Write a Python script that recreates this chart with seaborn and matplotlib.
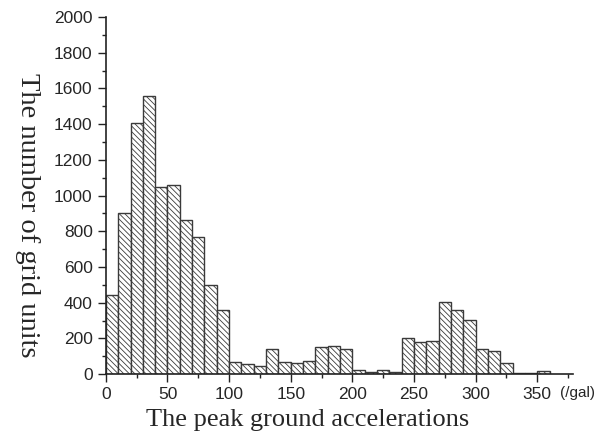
import numpy as np
import pandas as pd
import matplotlib
matplotlib.use('Agg')
import matplotlib.pyplot as plt
from matplotlib.ticker import MultipleLocator
import seaborn as sns

# Histogram counts, 10 gal bins from 0 to 360
bin_edges = list(range(0, 370, 10))
counts = [445, 900, 1405, 1555, 1050, 1058, 865, 770, 500, 360,
          70, 54, 43, 140, 68, 62, 72, 150, 157, 142,
          21, 11, 22, 11, 200, 178, 185, 403, 358, 303,
          139, 128, 62, 8, 8, 19]

df = pd.DataFrame({
    'pga': [e + 5 for e in bin_edges[:-1]],
    'count': counts,
})

sns.set_style('ticks')
plt.rcParams['hatch.linewidth'] = 0.6
plt.rcParams['hatch.color'] = '#6a6a6a'

fig = plt.figure(figsize=(6.05, 4.34), dpi=100)
ax = fig.add_axes([0.175, 0.138, 0.772, 0.823])

sns.histplot(data=df, x='pga', weights='count', bins=bin_edges, ax=ax,
             color='white', edgecolor='#3a3a3a', linewidth=1.0, alpha=1.0)
for p in ax.patches:
    p.set_hatch('\\' * 6)
    p.set_edgecolor('#3a3a3a')

ax.set_xlim(0, 379)
ax.set_ylim(0, 2000)
ax.xaxis.set_major_locator(MultipleLocator(50))
ax.xaxis.set_minor_locator(MultipleLocator(25))
ax.yaxis.set_major_locator(MultipleLocator(200))
ax.yaxis.set_minor_locator(MultipleLocator(100))
ax.tick_params(axis='both', which='major', length=5.5, width=1, labelsize=12.5,
               direction='out', color='#222222', pad=4)
ax.tick_params(axis='both', which='minor', length=3, width=1,
               direction='out', color='#222222')
for lab in ax.get_xticklabels() + ax.get_yticklabels():
    lab.set_family('Liberation Sans')

sns.despine(ax=ax)
for s in ['left', 'bottom']:
    ax.spines[s].set_linewidth(1.2)
    ax.spines[s].set_color('#222222')

ax.set_xlabel('')
ax.set_ylabel('')
fig.text(0.045, 0.505, 'The number of grid units', family='Liberation Serif',
         fontsize=20.5, rotation=270, ha='center', va='center')
fig.text(0.509, 0.018, 'The peak ground accelerations', family='Liberation Serif',
         fontsize=19, ha='center', va='baseline')
fig.text(0.925, 0.094, '(/gal)', family='Liberation Sans', fontsize=11,
         ha='left', va='center')

fig.savefig('out.png', dpi=100)
print("Saved: out.png")
